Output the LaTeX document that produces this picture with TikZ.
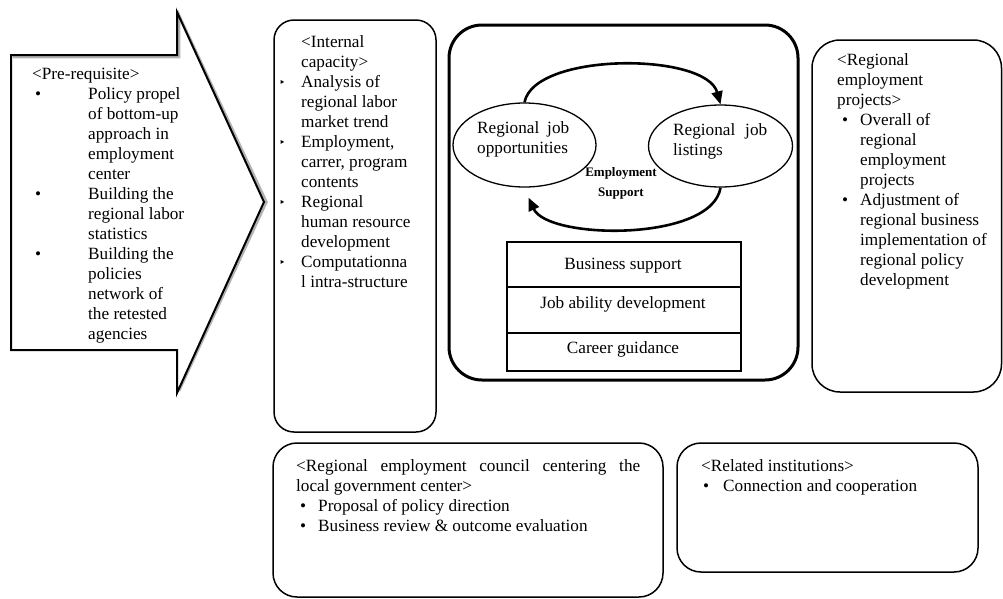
\documentclass[tikz,border=0pt]{standalone}
\usepackage{fontspec}
\setmainfont{Liberation Serif}
\newfontfamily\dejavu{DejaVu Sans}
\usetikzlibrary{arrows.meta,shapes.geometric,calc}
\newcommand{\Bul}[2]{\hspace*{#1}\makebox[#2][l]{•}}
\newcommand{\SBul}[2]{\hspace*{#1}\makebox[#2][l]{\raisebox{0.5pt}{\dejavu\fontsize{11}{11}\selectfont ‣}}}
\newcommand{\Ind}[1]{\hspace*{#1}}
\begin{document}
\begin{tikzpicture}[x=1pt,y=-1pt,
  txt/.style={anchor=north west,inner sep=0pt,align=left,font=\fontsize{17.2}{20}\selectfont},
  lbl/.style={anchor=base,inner sep=0pt,font=\fontsize{17.2}{20}\selectfont},
  rbox/.style={draw,line width=1.5pt,rounded corners=#1},
  bigbox/.style={draw,line width=3pt,rounded corners=33pt},
  cell/.style={draw,line width=1.8pt,rectangle,inner sep=0pt,minimum width=234pt},
  oval/.style={draw,line width=1.3pt,ellipse,inner sep=0pt},
  cyc/.style={line width=2.6pt,-{Triangle[length=13pt,width=11pt]}},
  shaft/.style={draw,line width=2pt,line join=miter},
  shade/.style={draw=black!30,line width=2.5pt,line join=miter}
]
\useasboundingbox (0,0) rectangle (1003,598);

% big arrow (pre-requisite)
\draw[shade] (13,57) -- (179,57) -- (179,15) -- (266.5,202) -- (179,391);
\draw[shaft] (11,55) -- (177,55) -- (177,12) -- (264,202) -- (177,393) -- (177,350) -- (11,350) -- cycle;
\node[txt] (pre) at (32,65) {\strut<Pre-requisite>\\
\Bul{3pt}{53pt}Policy propel\\
\Ind{56pt}of bottom-up\\
\Ind{56pt}approach in\\
\Ind{56pt}employment\\
\Ind{56pt}center\\
\Bul{3pt}{53pt}Building the\\
\Ind{56pt}regional labor\\
\Ind{56pt}statistics\\
\Bul{3pt}{53pt}Building the\\
\Ind{56pt}policies\\
\Ind{56pt}network of\\
\Ind{56pt}the retested\\
\Ind{56pt}agencies};

% internal capacity
\draw[rbox=20pt] (274,20) rectangle (436,432);
\node[txt] (int) at (279,33) {\strut\Ind{22pt}<Internal\\
\Ind{22pt}capacity>\\
\SBul{0pt}{22pt}Analysis of\\
\Ind{22pt}regional labor\\
\Ind{22pt}market trend\\
\SBul{0pt}{22pt}Employment,\\
\Ind{22pt}carrer, program\\
\Ind{22pt}contents\\
\SBul{0pt}{22pt}Regional\\
\Ind{22pt}human resource\\
\Ind{22pt}development\\
\SBul{0pt}{22pt}Computationna\\
\Ind{22pt}l intra-structure};

% central box
\draw[bigbox] (449,25) rectangle (798,380);
\node[oval,minimum width=143pt,minimum height=84pt] (lo) at (524.5,145) {};
\node[oval,minimum width=144pt,minimum height=82pt] (ro) at (720.5,146) {};
\node[txt] (lot) at (477,119) {\strut\hbox to 92pt{Regional\hfill job}\\opportunities};
\node[txt] (rot) at (673,121) {\strut\hbox to 94pt{Regional\hfill job}\\listings};
\node[anchor=north,inner sep=0pt,align=center,font=\bfseries\fontsize{13}{20}\selectfont] (es) at (621,162) {\strut Employment\\Support};
\draw[cyc] (lo.north) .. controls (534,52) and (706,52) .. (ro.north);
\draw[cyc] (ro.south) .. controls (712,242) and (548,240) .. ($(lo.south)+(4,10)$);

\node[cell,minimum height=45pt] (r1) at (624,264.5) {};
\node[cell,minimum height=46pt] (r2) at (624,310) {};
\node[cell,minimum height=38pt] (r3) at (624,352) {};
\node[lbl] (t1) at (623,269) {Business support};
\node[lbl] (t2) at (623,308) {Job ability development};
\node[lbl] (t3) at (623,353) {Career guidance};

% regional employment projects
\draw[rbox=28pt] (812,40) rectangle (1001.5,392);
\node[txt] (rep) at (837,51) {\strut<Regional\\
employment\\
projects>\\
\Bul{5pt}{18pt}Overall of\\
\Ind{23pt}regional\\
\Ind{23pt}employment\\
\Ind{23pt}projects\\
\Bul{5pt}{18pt}Adjustment of\\
\Ind{23pt}regional business\\
\Ind{23pt}implementation of\\
\Ind{23pt}regional policy\\
\Ind{23pt}development};

% council
\draw[rbox=24pt] (273,443) rectangle (663,597);
\node[txt] (cou) at (296,457) {\strut\hbox to 344pt{<Regional \hfill employment \hfill council \hfill centering \hfill the}\\
local government center>\\
\Bul{4pt}{18pt}Proposal of policy direction\\
\Bul{4pt}{18pt}Business review \& outcome evaluation};

% related institutions
\draw[rbox=24pt] (677,443) rectangle (978,572);
\node[txt] (rel) at (701,457) {\strut<Related institutions>\\
\Bul{2pt}{20pt}Connection and cooperation};
\end{tikzpicture}
\end{document}
